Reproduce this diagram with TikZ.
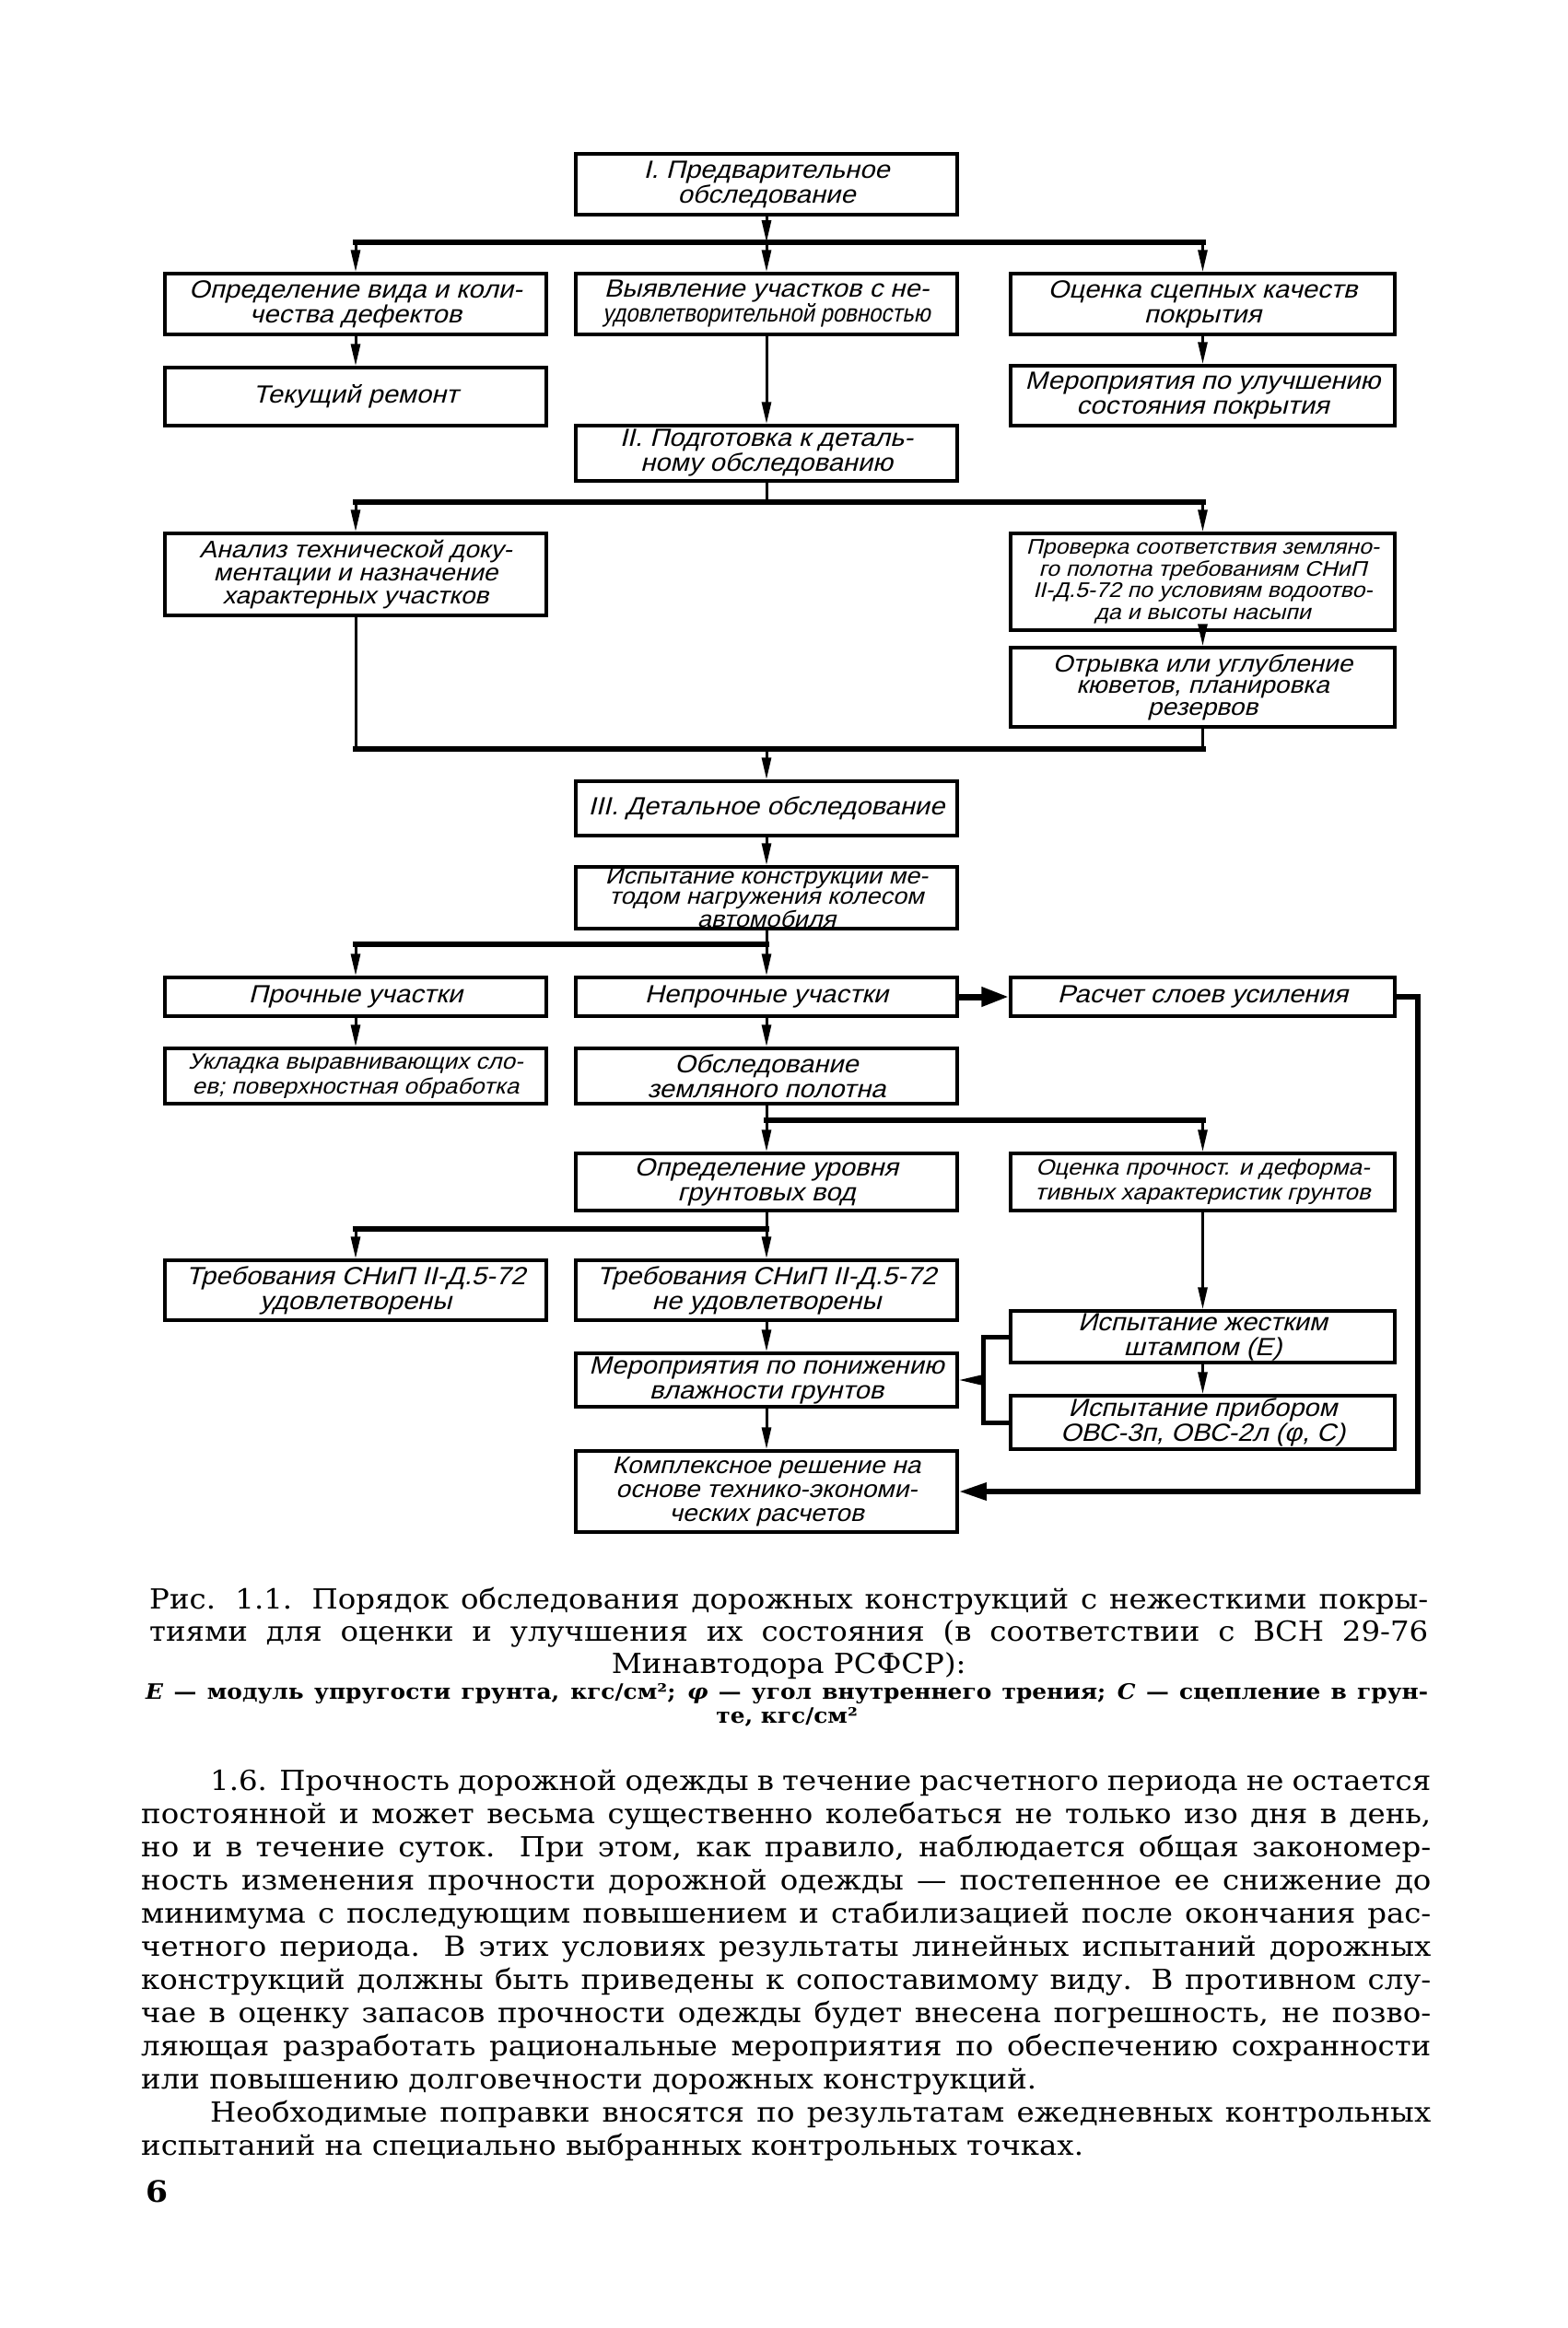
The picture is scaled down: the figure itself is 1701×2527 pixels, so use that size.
\documentclass[tikz,border=0pt]{standalone}
\usepackage{fontspec}
\usepackage{graphicx}
\usetikzlibrary{arrows.meta}
\setmainfont{DejaVu Serif}
\newfontfamily\gost[FakeSlant=0.25,FakeStretch=1.08]{Liberation Sans}
\newfontfamily\bodyfont[FakeStretch=1.08]{DejaVu Serif}
\newcommand\fs[2]{\fontsize{#1}{#2}\selectfont}
\tikzset{
  box/.style={draw, line width=3.5pt, inner sep=0pt, align=center, font=\gost\fs{27}{27}},
  ln/.style={line width=3pt},
  bus/.style={line width=6pt, line cap=rect},
  arr/.style={line width=3pt, -{Triangle[length=24pt,width=10pt]}},
  bigarr/.style={line width=7pt, -{Triangle[length=30pt,width=20pt]}},
  fbarr/.style={line width=6pt, -{Triangle[length=30pt,width=18pt]}},
  brk/.style={line width=5pt},
  txt/.style={anchor=base west, inner sep=0pt},
}
\begin{document}
\begin{tikzpicture}[x=1pt,y=-1pt]
\useasboundingbox (0,0) rectangle (1701,2527);
% ---------- boxes ----------
\node[box, minimum width=414pt, minimum height=66pt] (pre) at (832,200) {I. Предварительное\\обследование};
\node[box, minimum width=414pt, minimum height=66pt] (opr) at (386,330) {Определение вида и коли-\\чества дефектов};
\node[box, minimum width=414pt, minimum height=66pt] (vyy) at (832,330) {Выявление участков с не-\\\scalebox{0.82}[1]{удовлетворительной ровностью}};
\node[box, minimum width=417pt, minimum height=66pt] (ots) at (1305.5,330) {Оценка сцепных качеств\\покрытия};
\node[box, minimum width=414pt, minimum height=63pt] (tek) at (386,430.5) {Текущий ремонт};
\node[box, minimum width=417pt, minimum height=65pt] (mul) at (1305.5,429.5) {Мероприятия по улучшению\\состояния покрытия};
\node[box, minimum width=414pt, minimum height=60pt] (pod) at (832,492) {II. Подготовка к деталь-\\ному обследованию};
\node[box, minimum width=414pt, minimum height=89pt, font=\gost\fs{26}{25}] (ana) at (386,623.5) {Анализ технической доку-\\ментации и назначение\\характерных участков};
\node[box, minimum width=417pt, minimum height=105pt, font=\gost\fs{23}{23.5}] (prv) at (1305.5,631.5) {Проверка соответствия земляно-\\го полотна требованиям СНиП\\II-Д.5-72 по условиям водоотво-\\да и высоты насыпи};
\node[box, minimum width=417pt, minimum height=86pt, font=\gost\fs{26}{23.5}] (otr) at (1305.5,746) {Отрывка или углубление\\кюветов, планировка\\резервов};
\node[box, minimum width=414pt, minimum height=59pt] (det) at (832,877.5) {III. Детальное обследование};
\node[box, minimum width=414pt, minimum height=67pt, font=\gost\fs{25}{21.5}] (isp) at (832,974.5) {Испытание конструкции ме-\\тодом нагружения колесом\\автомобиля};
\node[box, minimum width=414pt, minimum height=42pt] (pro) at (386,1082) {Прочные участки};
\node[box, minimum width=414pt, minimum height=42pt] (nep) at (832,1082) {Непрочные участки};
\node[box, minimum width=417pt, minimum height=42pt] (ras) at (1305.5,1082) {Расчет слоев усиления};
\node[box, minimum width=414pt, minimum height=60pt, font=\gost\fs{24}{27}] (ukl) at (386,1168) {Укладка выравнивающих сло-\\ев; поверхностная обработка};
\node[box, minimum width=414pt, minimum height=60pt] (obs) at (832,1168) {Обследование\\земляного полотна};
\node[box, minimum width=414pt, minimum height=62pt] (urv) at (832,1283) {Определение уровня\\грунтовых вод};
\node[box, minimum width=417pt, minimum height=62pt, font=\gost\fs{24}{27}] (opn) at (1305.5,1283) {Оценка прочност. и деформа-\\тивных характеристик грунтов};
\node[box, minimum width=414pt, minimum height=65pt] (tr1) at (386,1400.5) {Требования СНиП II-Д.5-72\\удовлетворены};
\node[box, minimum width=414pt, minimum height=65pt] (tr2) at (832,1400.5) {Требования СНиП II-Д.5-72\\не удовлетворены};
\node[box, minimum width=417pt, minimum height=56pt] (zhs) at (1305.5,1451) {Испытание жестким\\штампом (E)};
\node[box, minimum width=414pt, minimum height=58pt] (mpn) at (832,1498) {Мероприятия по понижению\\влажности грунтов};
\node[box, minimum width=417pt, minimum height=58pt] (prb) at (1305.5,1544) {Испытание прибором\\ОВС-3п, ОВС-2л (φ, C)};
\node[box, minimum width=414pt, minimum height=88pt, font=\gost\fs{26}{26}] (kom) at (832,1619) {Комплексное решение на\\основе технико-экономи-\\ческих расчетов};
% ---------- bus coordinates ----------
\coordinate (b1) at (832,263);
\coordinate (b2) at (832,545);
\coordinate (b3) at (832,813);
\coordinate (b4) at (832,1025);
\coordinate (b5) at (832,1216);
\coordinate (b6) at (832,1334);
\coordinate (brc) at (1067,1498);
\coordinate (fb) at (1539,1350);
% ---------- connectors ----------
\draw[arr] (pre.south) -- (b1);
\draw[bus] (opr.north |- b1) -- (ots.north |- b1);
\draw[arr] (opr.north |- b1) -- (opr.north);
\draw[arr] (b1) -- (vyy.north);
\draw[arr] (ots.north |- b1) -- (ots.north);
\draw[arr] (opr.south) -- (tek.north);
\draw[arr] (ots.south) -- (mul.north);
\draw[arr] (vyy.south) -- (pod.north);
\draw[ln] (pod.south) -- (b2);
\draw[bus] (ana.north |- b2) -- (prv.north |- b2);
\draw[arr] (ana.north |- b2) -- (ana.north);
\draw[arr] (prv.north |- b2) -- (prv.north);
\draw[arr] (prv.south) -- (otr.north);
\draw[ln] (ana.south) -- (ana.south |- b3);
\draw[ln] (otr.south) -- (otr.south |- b3);
\draw[bus] (ana.south |- b3) -- (otr.south |- b3);
\draw[arr] (b3) -- (det.north);
\draw[arr] (det.south) -- (isp.north);
\draw[ln] (isp.south) -- (b4);
\draw[bus] (pro.north |- b4) -- (b4);
\draw[arr] (pro.north |- b4) -- (pro.north);
\draw[arr] (b4) -- (nep.north);
\draw[arr] (pro.south) -- (ukl.north);
\draw[arr] (nep.south) -- (obs.north);
\draw[bigarr] (nep.east) -- (ras.west);
\draw[ln] (obs.south) -- (b5);
\draw[bus] (b5) -- (opn.north |- b5);
\draw[arr] (b5) -- (urv.north);
\draw[arr] (opn.north |- b5) -- (opn.north);
\draw[ln] (urv.south) -- (b6);
\draw[bus] (tr1.north |- b6) -- (b6);
\draw[arr] (tr1.north |- b6) -- (tr1.north);
\draw[arr] (b6) -- (tr2.north);
\draw[arr] (tr2.south) -- (mpn.north);
\draw[arr] (mpn.south) -- (kom.north);
\draw[arr] (opn.south) -- (zhs.north);
\draw[arr] (zhs.south) -- (prb.north);
\draw[brk] (zhs.west) -| (brc) |- (prb.west);
\draw[arr] (brc) -- (mpn.east);
\draw[fbarr] (ras.east) -| (fb) |- (kom.east);
% ---------- caption ----------
\node[txt, font=\bodyfont\fs{30}{35}] (cap) at (162,1746) {\vtop{\hsize=1388pt\baselineskip=35pt\parindent=0pt
\hbox to\hsize{Рис. 1.1. Порядок обследования дорожных конструкций с нежесткими покры-}
\hbox to\hsize{тиями для оценки и улучшения их состояния (в соответствии с ВСН 29-76}
\hbox to\hsize{\hfil Минавтодора РСФСР):\hfil}}};
\node[txt, font=\bodyfont\bfseries\fs{23}{27}] (leg) at (158,1844) {\vtop{\hsize=1392pt\baselineskip=26pt\parindent=0pt
\hbox to\hsize{\textit{E} — модуль упругости грунта, кгс/см²; \textit{φ} — угол внутреннего трения; \textit{C} — сцепление в грун-}
\hbox to\hsize{\hfil те, кгс/см²\hfil}}};
% ---------- body text ----------
\node[txt, font=\bodyfont\fs{30}{36}] (body) at (153,1943) {\vtop{\hsize=1400pt\baselineskip=36pt\parindent=0pt
\hbox to\hsize{\hskip75pt 1.6. Прочность дорожной одежды в течение расчетного периода не остается}
\hbox to\hsize{постоянной и может весьма существенно колебаться не только изо дня в день,}
\hbox to\hsize{но и в течение суток. При этом, как правило, наблюдается общая закономер-}
\hbox to\hsize{ность изменения прочности дорожной одежды — постепенное ее снижение до}
\hbox to\hsize{минимума с последующим повышением и стабилизацией после окончания рас-}
\hbox to\hsize{четного периода. В этих условиях результаты линейных испытаний дорожных}
\hbox to\hsize{конструкций должны быть приведены к сопоставимому виду. В противном слу-}
\hbox to\hsize{чае в оценку запасов прочности одежды будет внесена погрешность, не позво-}
\hbox to\hsize{ляющая разработать рациональные мероприятия по обеспечению сохранности}
\hbox{или повышению долговечности дорожных конструкций.}
\hbox to\hsize{\hskip75pt Необходимые поправки вносятся по результатам ежедневных контрольных}
\hbox{испытаний на специально выбранных контрольных точках.}}};
\node[txt, font=\bodyfont\bfseries\fs{32}{32}] (pg) at (158,2390) {6};
\end{tikzpicture}
\end{document}
